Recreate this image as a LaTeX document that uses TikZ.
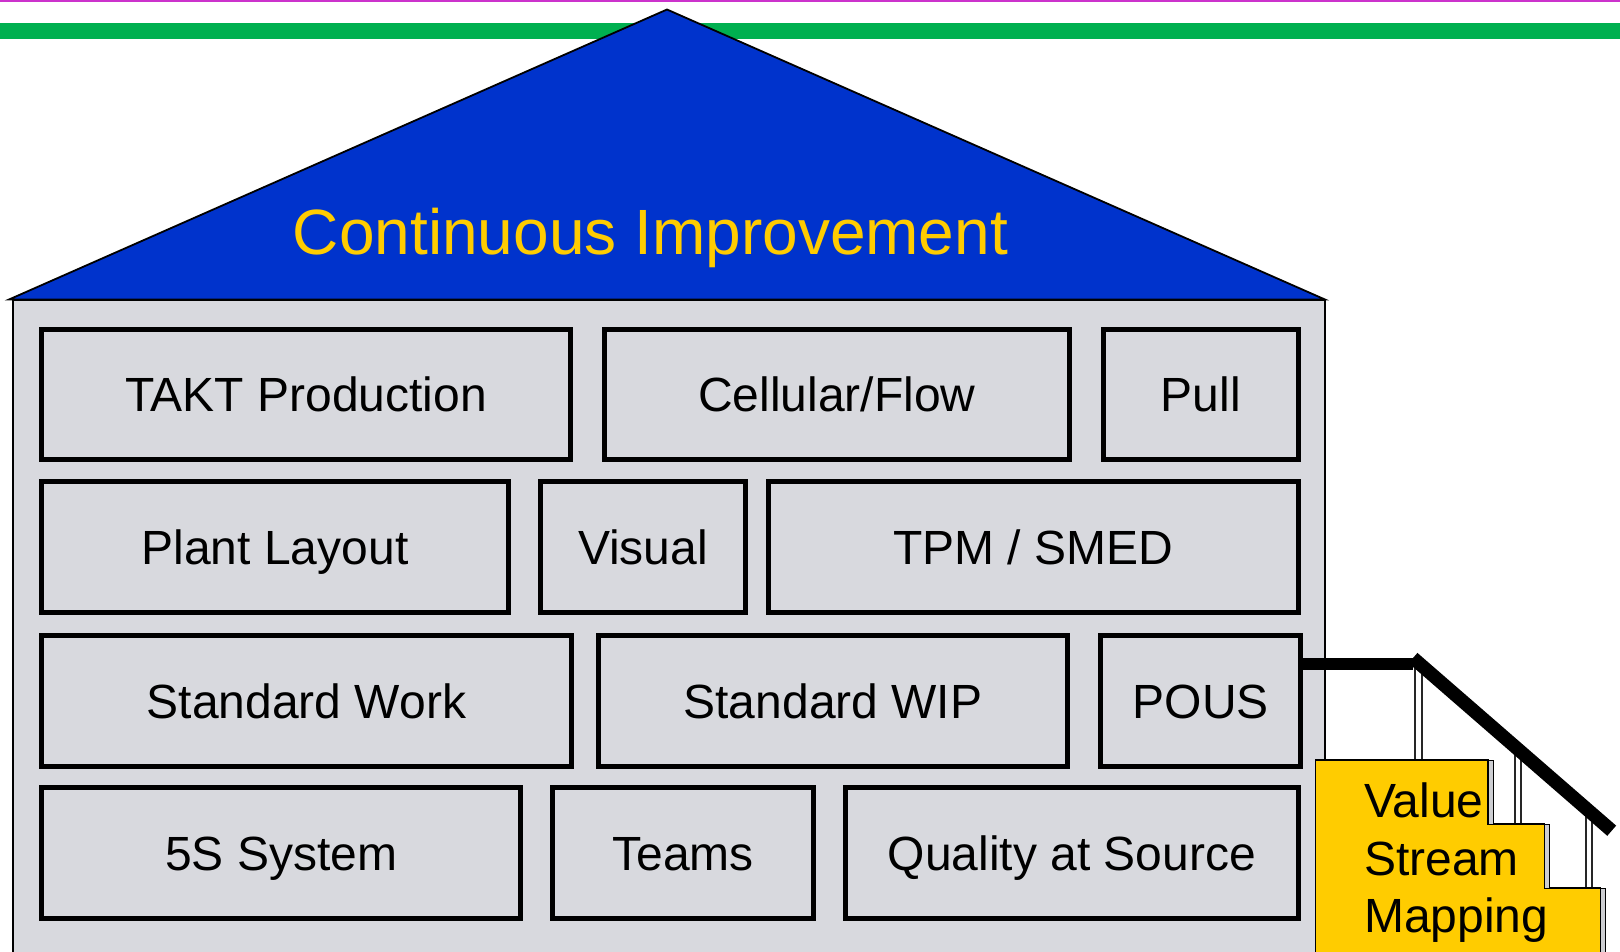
\documentclass[tikz,border=0pt]{standalone}
\usepackage{fontspec}
\setmainfont{Liberation Sans}
\definecolor{roofblue}{RGB}{0,51,204}
\definecolor{barGreen}{RGB}{0,176,80}
\definecolor{topMag}{RGB}{204,51,204}
\definecolor{houseGray}{RGB}{216,217,222}
\definecolor{titleYellow}{RGB}{255,204,0}
\definecolor{stairYellow}{RGB}{255,204,0}
\definecolor{riserGray}{RGB}{205,206,210}
\begin{document}
\begin{tikzpicture}[x=1pt,y=-1pt,
  lbox/.style={draw=black, line width=5pt, fill=houseGray, inner sep=0pt, outer sep=0pt,
    text height=34.4pt, text depth=0pt, font=\fontsize{48}{57.5}\selectfont},
  baluster/.style={fill=white, draw=black!85, line width=1.2pt},
  riser/.style={fill=riserGray, draw=black, line width=1pt},
  rail/.style={draw=black, line cap=butt}
]
\useasboundingbox (0,0) rectangle (1620,951);
\clip (0,0) rectangle (1620,951);
% top lines
\fill[topMag] (0,0) rectangle (1620,1.6);
\fill[barGreen] (0,22.7) rectangle (1620,39);
% house body
\draw[fill=houseGray, line width=2pt] (12.5,299.5) rectangle (1324.5,975);
% roof
\draw[fill=roofblue, line width=1.8pt] (9,299.5) -- (667,9.5) -- (1325,299.5) -- cycle;
\node[anchor=base, inner sep=0pt, text=titleYellow, font=\fontsize{64}{70}\selectfont] (title) at (650.5,254) {Continuous Improvement};
% row 1
\node[lbox, minimum width=529pt, minimum height=130pt] (takt) at (306,394.5) {TAKT Production};
\node[lbox, minimum width=465pt, minimum height=130pt] (cell) at (837,394.5) {Cellular/Flow};
\node[lbox, minimum width=195.3pt, minimum height=130pt] (pull) at (1200.8,394.5) {Pull};
% row 2
\node[lbox, minimum width=467pt, minimum height=131pt] (plant) at (275,547.3) {Plant Layout};
\node[lbox, minimum width=204.4pt, minimum height=131pt] (visual) at (643,547.3) {Visual};
\node[lbox, minimum width=530.3pt, minimum height=131pt] (tpm) at (1033.3,547.3) {TPM / SMED};
% row 3
\node[lbox, minimum width=530pt, minimum height=131.6pt] (stdwork) at (306.5,701) {Standard Work};
\node[lbox, minimum width=469pt, minimum height=131.6pt] (stdwip) at (833,701) {Standard WIP};
\node[lbox, minimum width=200pt, minimum height=131.6pt] (pous) at (1200.8,701) {POUS};
% row 4
\node[lbox, minimum width=478.6pt, minimum height=131.5pt] (fives) at (281.2,853.2) {5S System};
\node[lbox, minimum width=261pt, minimum height=131.5pt] (teams) at (683,853.2) {Teams};
\node[lbox, minimum width=453pt, minimum height=131.5pt] (qas) at (1072,853.2) {Quality at Source};
% balusters
\draw[baluster] (1415,668) rectangle (1422,760);
\draw[baluster] (1515,749) rectangle (1521,824);
\draw[baluster] (1586,811) rectangle (1592,888);
% stairs
\draw[fill=stairYellow, line width=1.5pt] (1315.5,760) -- (1488,760) -- (1488,824) -- (1544.5,824)
  -- (1544.5,888) -- (1600.5,888) -- (1600.5,975) -- (1315.5,975) -- cycle;
\draw[riser] (1488,760) rectangle (1493,824);
\draw[riser] (1544.5,824) rectangle (1549,888);
\draw[riser] (1600.5,888) rectangle (1605,975);
\node[anchor=north west, align=left, inner sep=0pt, font=\fontsize{48}{57.5}\selectfont] (vsm) at (1364,783) {Value\\Stream\\Mapping};
% hand rail
\coordinate (r0) at (pous.east |- 0,664);
\coordinate (r1) at (1413,664);
\coordinate (r1b) at (1413,658);
\coordinate (r2) at (1611.7,830.7);
\draw[rail, line width=11.5pt] (r0) -- (r1);
\draw[rail, line width=13.5pt] (r1b) -- (r2);
\end{tikzpicture}
\end{document}
